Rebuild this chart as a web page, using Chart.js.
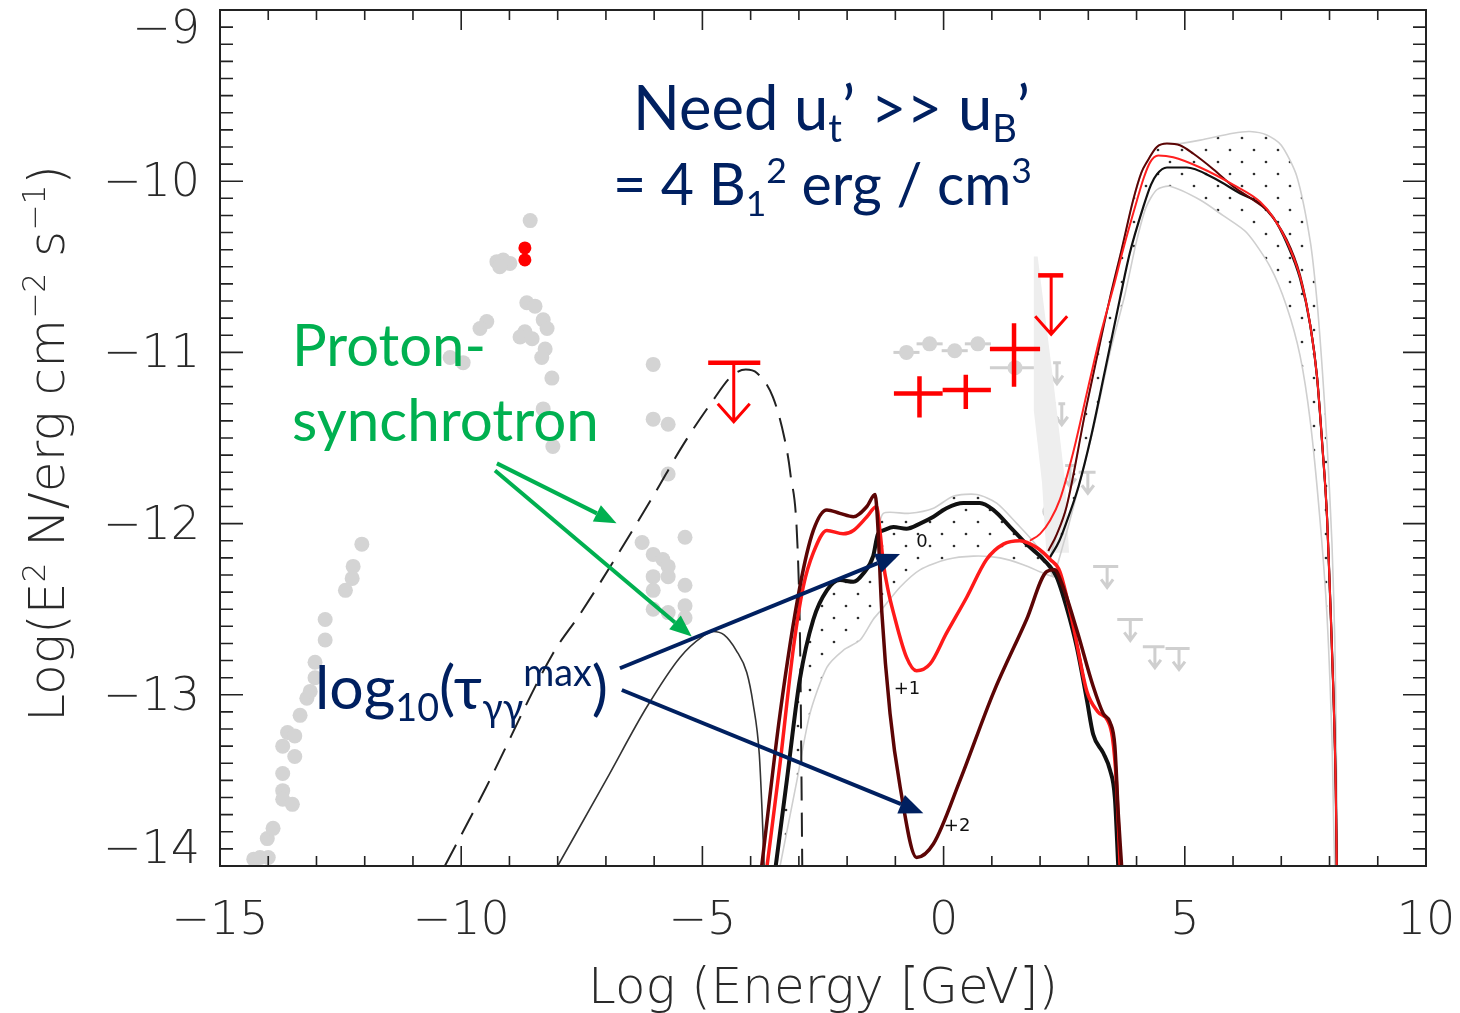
<!DOCTYPE html>
<html><head><meta charset="utf-8">
<script src="https://cdn.jsdelivr.net/npm/chart.js@4/dist/chart.umd.min.js"></script>
<style>html,body{margin:0;padding:0;background:#fff}#wrap{width:1460px;height:1013px}</style>
</head><body><div id="wrap"><canvas id="c" width="1460" height="1013"></canvas></div>
<script>
// ---------- axis ticks ----------
const xTickVals = [-15, -10, -5, 0, 5, 10];
const yTickVals = [-14, -13, -12, -11, -10, -9];

// ---------- gray archival data points ----------
const grayX = [-14.3,-14.17,-14.0,-14.02,-13.9,-13.7,-13.7,-13.5,-13.7,-13.7,-13.6,-13.45,-13.45,-13.34,-13.2,-13.13,-13.03,-13.03,-12.82,-12.82,-12.4,-12.26,-12.24,-12.06,
  -8.57,-9.26,-9.13,-8.99,-9.2,-8.64,-8.47,-8.3,-8.22,-9.47,-9.61,-8.68,-8.78,-8.53,-8.26,-8.33,-10.23,-9.96,-8.12,-8.3,-8.1,
  -6.02,-6.02,-5.71,-5.71,-5.36,-6.25,-6.02,-5.82,-5.71,-6.02,-5.71,-5.36,-6.02,-5.36,-5.36,-6.02,-5.71];
const grayY = [-13.96,-13.95,-13.95,-13.84,-13.78,-13.56,-13.61,-13.64,-13.46,-13.3,-13.22,-13.24,-13.36,-13.12,-13.02,-12.98,-12.9,-12.81,-12.68,-12.56,-12.39,-12.32,-12.25,-12.12,
  -10.23,-10.47,-10.46,-10.48,-10.5,-10.71,-10.73,-10.81,-10.86,-10.82,-10.86,-10.88,-10.91,-10.92,-10.98,-11.03,-11.03,-11.06,-11.15,-11.33,-11.55,
  -11.07,-11.39,-11.42,-11.71,-12.08,-12.11,-12.18,-12.21,-12.25,-12.31,-12.31,-12.36,-12.39,-12.48,-12.55,-12.5,-12.52];
// X-ray points with horizontal bars
const xrayX = [-0.77,-0.29,0.23,0.71,1.48];
const xrayY = [-11.0,-10.95,-10.99,-10.95,-11.09];
const xrayLo = [-1.04,-0.56,-0.04,0.44,0.96];
const xrayHi = [-0.5,-0.02,0.5,0.98,2.0];
// gray points with vertical bars
const gptX = [2.14,2.2];
const gptY = [-11.53,-11.93];
const gptLo = [-11.7,-12.05];
const gptHi = [-11.38,-11.8];
// gray butterfly wedge
const wedgeX = [1.87,1.87,2.04,2.13,2.6,2.52,2.28,1.95];
const wedgeY = [-10.44,-11.34,-11.76,-12.17,-12.17,-11.76,-11.18,-10.44];
// gray upper limits
const gulX = [2.35,2.25,2.45,2.62,2.99,3.39,3.87,4.38,4.88];
const gulY = [-11.06,-11.3,-11.3,-11.66,-11.7,-12.25,-12.56,-12.72,-12.73];
const gulLo = [2.27,2.18,2.38,2.52,2.8,3.1,3.6,4.13,4.6];
const gulHi = [2.43,2.32,2.52,2.72,3.15,3.62,4.13,4.58,5.1];

// ---------- red data ----------
const redDotX = [-8.68,-8.68];
const redDotY = [-10.39,-10.46];
const redX = [-0.5,0.46,1.46];
const redY = [-11.24,-11.22,-10.98];
const redXLo = [-1.03,-0.02,0.96];
const redXHi = [-0.02,0.98,2.0];
const redYLo = [-11.38,-11.33,-11.2];
const redYHi = [-11.14,-11.13,-10.83];
const redUlX = [-4.35,2.23];
const redUlY = [-11.06,-10.55];
const redUlLo = [-4.88,1.96];
const redUlHi = [-3.8,2.48];

// ---------- proton synchrotron ----------
const psHiX = [-10.34,-9.5,-8.1,-7.54,-6.71,-6.0,-5.4,-4.78,-4.4,-4.1,-3.87,-3.54,-3.3,-3.18,-3.02,-2.97,-2.93];
const psHiY = [-14,-13.55,-12.76,-12.53,-12.16,-11.83,-11.54,-11.28,-11.14,-11.1,-11.12,-11.26,-11.5,-11.7,-12.19,-12.8,-14];
const psLoX = [-8.0,-7.0,-6.15,-5.46,-5.0,-4.78,-4.55,-4.3,-4.08,-3.95,-3.82,-3.76,-3.72];
const psLoY = [-14,-13.5,-13.07,-12.78,-12.66,-12.63,-12.65,-12.74,-12.87,-13.05,-13.35,-13.7,-14];

// ---------- model curves, log10(tau) = 0, +1, +2 ----------
const tau0X = [-3.48,-3.25,-2.98,-2.70,-2.42,-2.15,-1.87,-1.66,-1.46,-1.36,-1.25,-1.04,-0.77,-0.49,-0.21,0.06,0.41,0.75,1.03,1.38,1.72,2.07,2.34,2.55,2.76,2.97,3.10,3.31,3.45,3.55,3.62];
const tau0Y = [-14.0,-13.5,-12.91,-12.56,-12.39,-12.33,-12.34,-12.29,-12.19,-12.06,-12.04,-12.02,-12.03,-12.0,-11.96,-11.91,-11.88,-11.88,-11.92,-12.02,-12.12,-12.21,-12.31,-12.49,-12.72,-13.03,-13.23,-13.34,-13.44,-13.6,-14.0];
const tau1X = [-3.66,-3.39,-3.11,-2.91,-2.70,-2.42,-2.08,-1.87,-1.59,-1.39,-1.32,-1.25,-1.15,-1.04,-0.77,-0.56,-0.28,0.06,0.48,0.89,1.24,1.58,1.93,2.21,2.41,2.69,2.97,3.2,3.4,3.5,3.58,3.66];
const tau1Y = [-14.0,-13.40,-12.72,-12.37,-12.17,-12.04,-12.06,-12.04,-11.96,-11.90,-12.04,-12.23,-12.39,-12.52,-12.78,-12.86,-12.82,-12.64,-12.43,-12.21,-12.12,-12.10,-12.14,-12.21,-12.28,-12.6,-12.98,-13.1,-13.15,-13.25,-13.5,-14.0];
const tau2X = [-3.77,-3.39,-2.98,-2.70,-2.42,-2.15,-1.87,-1.59,-1.42,-1.37,-1.28,-1.11,-0.90,-0.56,-0.21,0.34,1.03,1.72,2.14,2.3,2.45,2.76,3.10,3.31,3.45,3.55,3.62,3.69];
const tau2Y = [-14.0,-13.11,-12.37,-12.04,-11.92,-11.94,-11.96,-11.90,-11.83,-11.98,-12.52,-13.11,-13.54,-13.95,-13.87,-13.50,-12.99,-12.56,-12.28,-12.27,-12.35,-12.62,-12.95,-13.11,-13.16,-13.30,-13.69,-14.0];
// TeV-bump (inverse Compton) components
const tev2X = [2.17,2.35,2.55,2.95,3.2,3.45,3.69,3.93,4.1,4.21,4.42,4.63,4.90,5.18,5.59,6.0,6.42,6.70,7.11,7.39,7.60,7.74,7.85,7.95,8.01,8.08,8.13,8.15];
const tev2Y = [-12.16,-12.06,-11.9,-11.33,-11.0,-10.68,-10.40,-10.11,-9.95,-9.89,-9.80,-9.78,-9.79,-9.84,-9.93,-10.03,-10.11,-10.17,-10.34,-10.55,-10.84,-11.14,-11.54,-11.97,-12.41,-12.98,-13.56,-14.0];
const tev1X = [1.79,2.0,2.21,2.41,2.69,3.0,3.25,3.52,3.72,4.0,4.15,4.28,4.45,4.76,5.32,6.0,6.56,6.83,7.11,7.39,7.60,7.74,7.85,7.95,8.01,8.08,8.13,8.15];
const tev1Y = [-12.10,-12.06,-11.98,-11.86,-11.58,-11.2,-10.9,-10.62,-10.40,-10.12,-9.98,-9.89,-9.85,-9.86,-9.92,-10.02,-10.12,-10.21,-10.35,-10.56,-10.84,-11.14,-11.54,-11.97,-12.41,-12.98,-13.56,-14.0];
const tev0X = [2.2,2.4,2.6,2.8,3.05,3.35,3.66,3.86,4.14,4.3,4.42,4.63,5.04,5.59,6.14,6.56,6.83,7.11,7.39,7.60,7.74,7.85,7.95,8.01,8.08,8.13,8.15];
const tev0Y = [-12.2,-12.1,-11.95,-11.78,-11.5,-11.1,-10.68,-10.42,-10.15,-10.02,-9.96,-9.92,-9.92,-9.98,-10.07,-10.13,-10.21,-10.36,-10.57,-10.84,-11.14,-11.54,-11.97,-12.41,-12.98,-13.56,-14.0];

// ---------- stippled model bands ----------
const band1UpX = [-3.46,-3.25,-2.98,-2.70,-2.42,-2.15,-1.87,-1.66,-1.46,-1.36,-1.25,-0.70,-0.21,0.20,0.69,1.10,1.52,1.93,2.27];
const band1UpY = [-14,-13.5,-12.91,-12.56,-12.39,-12.33,-12.34,-12.29,-12.19,-12.06,-11.94,-11.94,-11.91,-11.84,-11.83,-11.88,-12.0,-12.13,-12.31];
const band1LoX = [-3.39,-3.04,-2.77,-2.42,-2.08,-1.73,-1.46,-1.25,-0.90,-0.49,0.06,0.62,1.17,1.65,2.07,2.27];
const band1LoY = [-14,-13.5,-13.11,-12.84,-12.74,-12.68,-12.56,-12.49,-12.37,-12.27,-12.21,-12.19,-12.2,-12.24,-12.29,-12.31];
const band2UpX = [2.2,2.35,2.55,2.95,3.2,3.45,3.69,3.93,4.1,4.21,4.42,4.63,4.90,5.32,6.0,6.35,6.7,7.0,7.32,7.6,7.74,7.85,7.95,8.05,8.11,8.14,8.16];
const band2UpY = [-12.2,-12.06,-11.9,-11.33,-11.0,-10.68,-10.40,-10.11,-9.95,-9.89,-9.80,-9.78,-9.78,-9.76,-9.72,-9.71,-9.73,-9.79,-9.97,-10.35,-10.7,-11.1,-11.54,-12.11,-12.69,-13.3,-14];
const band2LoX = [2.3,2.6,3.1,3.45,3.76,4.0,4.2,4.42,4.69,5.32,5.79,6.28,6.77,7.11,7.39,7.6,7.8,7.95,8.05,8.11];
const band2LoY = [-12.3,-12.0,-11.45,-11.0,-10.66,-10.35,-10.15,-10.05,-10.03,-10.11,-10.2,-10.3,-10.5,-10.73,-11.02,-11.4,-11.97,-12.55,-13.26,-14];

// ---------- curve labels and annotation arrows (data coordinates) ----------
const curveLabelText = ['0','+1','+2'];
const curveLabelX = [-0.45,-0.76,0.28];
const curveLabelY = [-12.11,-12.97,-13.77];
const greenArrowFrom = [[-9.26,-11.648],[-9.30,-11.69]];
const greenArrowTo = [[-6.78,-11.998],[-5.22,-12.66]];
const navyArrowFrom = [[-6.71,-12.845],[-6.67,-12.972]];
const navyArrowTo = [[-0.904,-12.178],[-0.42,-13.692]];

// ---------- helpers ----------
const zip = (xa, ya) => xa.map((x, i) => ({x, y: ya[i]}));
const polygon = (ux, uy, lx, ly) => zip(ux, uy).concat(zip(lx, ly).reverse());
const canvas = document.getElementById('c');
const ctx0 = canvas.getContext('2d');
function dotPattern() {
  const c = document.createElement('canvas'); c.width = 24; c.height = 24;
  const g = c.getContext('2d'); g.fillStyle = '#2e2e2e';
  [[6,6],[18,18]].forEach(([a,b]) => { g.beginPath(); g.arc(a,b,1.35,0,Math.PI*2); g.fill(); });
  return ctx0.createPattern(c, 'repeat');
}
const dots = dotPattern();
function curve(xa, ya, color, w, order, extra) {
  return Object.assign({data: zip(xa, ya), showLine: true, borderColor: color, borderWidth: w,
    pointRadius: 0, fill: false, order: order, cubicInterpolationMode: 'monotone'}, extra || {});
}

const NAVY = '#002060', GREEN = '#00b050', DARKRED = '#5c0505', LGRAY = '#cfcfcf';
const AXFONT = '"DejaVu Sans", sans-serif';
const ANFONT = 'Lato, "Open Sans", sans-serif';

// rich text: segments {t, k} k=0 normal, -1 sub, 1 sup
function richWidth(ctx, segs, size, fam, wt) {
  let w = 0;
  for (const s of segs) { ctx.font = `${wt} ${s.k ? size*0.62 : size}px ${fam}`; w += ctx.measureText(s.t).width; }
  return w;
}
function richDraw(ctx, segs, x, y, size, fam, wt) {
  let cx = x;
  ctx.textBaseline = 'alphabetic'; ctx.textAlign = 'left';
  for (const s of segs) {
    const sz = s.k ? size*0.62 : size;
    ctx.font = `${wt} ${sz}px ${fam}`;
    const dy = s.k === -1 ? size*0.2 : s.k === 1 ? -size*0.38 : 0;
    ctx.fillText(s.t, cx, y + dy);
    cx += ctx.measureText(s.t).width;
  }
}
function fitRich(ctx, segs, left, right, baseline, color, fam, wt) {
  const w100 = richWidth(ctx, segs, 100, fam, wt);
  const size = 100 * (right - left) / w100;
  ctx.fillStyle = color;
  richDraw(ctx, segs, left, baseline, size, fam, wt);
}
function arrow(ctx, x1, y1, x2, y2, color, lw, hl, hw) {
  const a = Math.atan2(y2 - y1, x2 - x1);
  const bx = x2 - hl*Math.cos(a), by = y2 - hl*Math.sin(a);
  ctx.strokeStyle = color; ctx.fillStyle = color; ctx.lineWidth = lw; ctx.lineCap = 'butt';
  ctx.beginPath(); ctx.moveTo(x1, y1); ctx.lineTo(bx, by); ctx.stroke();
  ctx.beginPath(); ctx.moveTo(x2, y2);
  ctx.lineTo(bx + hw*Math.sin(a), by - hw*Math.cos(a));
  ctx.lineTo(bx - hw*Math.sin(a), by + hw*Math.cos(a));
  ctx.closePath(); ctx.fill();
}

// ---------- plugin: error bars, limits, frame, labels, annotations ----------
const sedPlugin = {
  id: 'sed',
  beforeDatasetsDraw(chart) {
    const c = chart.ctx, sx = chart.scales.x, sy = chart.scales.y;
    const px = v => sx.getPixelForValue(v), py = v => sy.getPixelForValue(v);
    c.save();
    c.strokeStyle = LGRAY; c.lineWidth = 3;
    for (let i = 0; i < xrayX.length; i++) {
      c.beginPath(); c.moveTo(px(xrayLo[i]), py(xrayY[i])); c.lineTo(px(xrayHi[i]), py(xrayY[i])); c.stroke();
    }
    for (let i = 0; i < gptX.length; i++) {
      c.beginPath(); c.moveTo(px(gptX[i]), py(gptLo[i])); c.lineTo(px(gptX[i]), py(gptHi[i])); c.stroke();
    }
    for (let i = 0; i < gulX.length; i++) {
      const x = px(gulX[i]), y = py(gulY[i]);
      c.beginPath(); c.moveTo(px(gulLo[i]), y); c.lineTo(px(gulHi[i]), y);
      c.moveTo(x, y); c.lineTo(x, y + 21);
      c.moveTo(x - 6, y + 13); c.lineTo(x, y + 21); c.lineTo(x + 6, y + 13);
      c.stroke();
    }
    c.restore();
  },
  afterDatasetsDraw(chart) {
    const c = chart.ctx, sx = chart.scales.x, sy = chart.scales.y, ca = chart.chartArea;
    const px = v => sx.getPixelForValue(v), py = v => sy.getPixelForValue(v);
    c.save();
    // red crosses
    c.strokeStyle = '#ff0000'; c.lineWidth = 4.5; c.lineCap = 'butt';
    for (let i = 0; i < redX.length; i++) {
      c.beginPath();
      c.moveTo(px(redXLo[i]), py(redY[i])); c.lineTo(px(redXHi[i]), py(redY[i]));
      c.moveTo(px(redX[i]), py(redYLo[i])); c.lineTo(px(redX[i]), py(redYHi[i]));
      c.stroke();
    }
    // red upper limits
    for (let i = 0; i < redUlX.length; i++) {
      const x = px(redUlX[i]), y = py(redUlY[i]);
      c.lineWidth = 4.5;
      c.beginPath(); c.moveTo(px(redUlLo[i]), y); c.lineTo(px(redUlHi[i]), y); c.stroke();
      c.lineWidth = 3;
      c.beginPath(); c.moveTo(x, y); c.lineTo(x, y + 59);
      c.moveTo(x - 16, y + 41); c.lineTo(x, y + 59); c.lineTo(x + 16, y + 41); c.stroke();
    }
    // frame and inward ticks
    c.strokeStyle = '#222'; c.lineWidth = 2;
    c.strokeRect(ca.left, ca.top, ca.right - ca.left, ca.bottom - ca.top);
    c.lineWidth = 1.6;
    c.beginPath();
    for (let v = -15; v <= 10; v++) {
      if (v === -15 || v === 10) continue;
      const x = px(v), L = (v % 5 === 0) ? 20 : 10;
      c.moveTo(x, ca.bottom); c.lineTo(x, ca.bottom - L);
      c.moveTo(x, ca.top); c.lineTo(x, ca.top + L);
    }
    for (let k = -140; k <= -90; k++) {
      if (k === -140 || k === -90) continue;
      const y = py(k / 10), L = (k % 10 === 0) ? 23 : 13;
      c.moveTo(ca.left, y); c.lineTo(ca.left + L, y);
      c.moveTo(ca.right, y); c.lineTo(ca.right - L, y);
    }
    c.stroke();
    // tick labels
    c.fillStyle = '#2a2a2a';
    c.font = `200 46px ${AXFONT}`;
    c.textAlign = 'center'; c.textBaseline = 'middle';
    xTickVals.forEach(v => c.fillText(v < 0 ? '\u2212' + Math.abs(v) : String(v), px(v), ca.bottom + 56));
    c.textAlign = 'right';
    yTickVals.forEach((v, i) => {
      const off = i === 0 ? -15 : (i === yTickVals.length - 1 ? 21 : 3);
      c.fillText('\u2212' + Math.abs(v), ca.left - 20, py(v) + off);
    });
    // axis titles
    c.fillStyle = '#2a2a2a';
    const xt = [{t: 'Log (Energy [GeV])'}];
    const xw = richWidth(c, xt, 100, AXFONT, 200);
    const xs = 100 * 470 / xw;
    richDraw(c, xt, (ca.left + ca.right) / 2 - 235, 985 + xs*0.36, xs, AXFONT, 200);
    const yt = [{t: 'Log(E'}, {t: '2', k: 1}, {t: ' N/erg cm'}, {t: '\u22122', k: 1}, {t: ' s'}, {t: '\u22121', k: 1}, {t: ')'}];
    const yw = richWidth(c, yt, 100, AXFONT, 200);
    const ysz = 100 * 557 / yw;
    c.save(); c.translate(46, (165 + 722) / 2); c.rotate(-Math.PI / 2);
    richDraw(c, yt, -557 / 2, ysz * 0.36, ysz, AXFONT, 200);
    c.restore();
    // curve labels
    c.fillStyle = '#111'; c.font = `18px ${AXFONT}`; c.textAlign = 'center'; c.textBaseline = 'middle';
    curveLabelText.forEach((t, i) => c.fillText(t, px(curveLabelX[i]), py(curveLabelY[i])));
    // arrows
    greenArrowFrom.forEach((f, i) => arrow(c, px(f[0]), py(f[1]), px(greenArrowTo[i][0]), py(greenArrowTo[i][1]), GREEN, 4, 22, 9));
    navyArrowFrom.forEach((f, i) => arrow(c, px(f[0]), py(f[1]), px(navyArrowTo[i][0]), py(navyArrowTo[i][1]), NAVY, 4, 24, 10));
    // annotation texts
    fitRich(c, [{t: 'Need u'}, {t: 't', k: -1}, {t: '\u2019 >> u'}, {t: 'B', k: -1}, {t: '\u2019'}], 633, 1030, 130, NAVY, ANFONT, 400);
    fitRich(c, [{t: '= 4 B'}, {t: '1', k: -1}, {t: '2', k: 1}, {t: ' erg / cm'}, {t: '3', k: 1}], 613, 1032, 205, NAVY, ANFONT, 400);
    fitRich(c, [{t: 'Proton-'}], 292, 486, 366, GREEN, ANFONT, 400);
    fitRich(c, [{t: 'synchrotron'}], 292, 599, 441, GREEN, ANFONT, 400);
    fitRich(c, [{t: 'log'}, {t: '10', k: -1}, {t: '(\u03c4'}, {t: '\u03b3\u03b3', k: -1}, {t: 'max', k: 1}, {t: ')'}], 315, 608, 709, NAVY, ANFONT, 400);
    c.restore();
  }
};

const datasets = [
  {data: zip(redDotX, redDotY), pointRadius: 6.5, pointBackgroundColor: '#ff0000', pointBorderWidth: 0, showLine: false, order: 1},
  curve(tau2X, tau2Y, DARKRED, 3.5, 3),
  curve(tau1X, tau1Y, '#ff1a1a', 3.5, 4),
  curve(tau0X, tau0Y, '#111111', 4, 5),
  curve(tev1X, tev1Y, '#ff2020', 2, 6),
  curve(tev2X, tev2Y, DARKRED, 2, 7),
  curve(tev0X, tev0Y, '#111111', 2.2, 8),
  curve(psHiX, psHiY, '#222222', 2, 10, {borderDash: [24, 12]}),
  curve(psLoX, psLoY, '#333333', 1.6, 11),
  {data: polygon(band1UpX, band1UpY, band1LoX, band1LoY), showLine: true, borderColor: LGRAY, borderWidth: 1.6,
   pointRadius: 0, fill: 'shape', backgroundColor: dots, tension: 0.25, order: 12},
  {data: polygon(band2UpX, band2UpY, band2LoX, band2LoY), showLine: true, borderColor: LGRAY, borderWidth: 1.6,
   pointRadius: 0, fill: 'shape', backgroundColor: dots, tension: 0.25, order: 13},
  {data: zip(wedgeX, wedgeY), showLine: true, borderWidth: 0, borderColor: 'rgba(0,0,0,0)', pointRadius: 0,
   fill: 'shape', backgroundColor: '#eeeeee', tension: 0, order: 14},
  {data: zip(grayX, grayY).concat(zip(xrayX, xrayY), zip(gptX, gptY)), pointRadius: 7.5, pointBackgroundColor: '#d4d4d4',
   pointBorderWidth: 0, showLine: false, order: 15}
];

new Chart(canvas, {
  type: 'scatter',
  data: {datasets},
  options: {
    responsive: false, animation: false, devicePixelRatio: 1, events: [],
    layout: {padding: {top: 10, right: 34, left: 0, bottom: 0}},
    plugins: {legend: {display: false}, tooltip: {enabled: false}},
    scales: {
      x: {type: 'linear', min: -15, max: 10, grid: {display: false}, border: {display: false},
          ticks: {display: false}, afterFit(s) { s.height = 147; }},
      y: {type: 'linear', min: -14, max: -9, grid: {display: false}, border: {display: false},
          ticks: {display: false}, afterFit(s) { s.width = 220; }}
    }
  },
  plugins: [sedPlugin]
});
</script></body></html>
